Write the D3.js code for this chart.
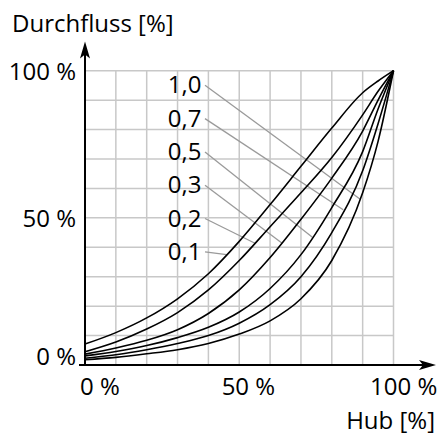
<!DOCTYPE html>
<html>
<head>
<meta charset="utf-8">
<script src="https://cdn.jsdelivr.net/npm/d3@7"></script>
<style>
  html, body { margin: 0; padding: 0; background: #fff; }
  svg { display: block; }
  text { font-family: "Open Sans", "Noto Sans", sans-serif; fill: #000; }
</style>
</head>
<body>
<svg id="chart" width="440" height="436"></svg>
<script>
// Hub positions (%) at which each characteristic is sampled
const hub = [0, 10, 20, 30, 40, 50, 60, 70, 80, 90, 95, 100];

// Flow (%) for each valve authority
const flowA01 = [7.1, 11, 16, 22.5, 31, 42, 54.5, 67.5, 80.5, 92.5, 96.5, 100];
const flowA02 = [4.5, 7.8, 12.2, 17.8, 25.5, 35.5, 47, 58.5, 70.5, 85, 93, 100];
const flowA03 = [3.7, 5.8, 8.4, 12, 17.5, 25.5, 36.5, 49.5, 63.5, 79.5, 90, 100];
const flowA05 = [3.1, 4.6, 6.6, 9.3, 12.8, 18, 26, 37.5, 53.5, 72.5, 87, 100];
const flowA07 = [2.3, 3.5, 5.2, 7.3, 10, 14.2, 20.5, 30, 45, 66, 82, 100];
const flowA10 = [1.8, 2.6, 3.8, 5.2, 7.3, 10.5, 15, 22.5, 35.5, 58.5, 76, 100];

// Authority labels, top to bottom, and where each leader meets its curve (hub %)
const authorityLabels = ["1,0", "0,7", "0,5", "0,3", "0,2", "0,1"];
const authoritySeries = [flowA10, flowA07, flowA05, flowA03, flowA02, flowA01];
const leaderHub = [89.1, 83.7, 73.7, 63.8, 55.1, 45.9];

// Axis ticks
const xTickValues = [0, 50, 100];
const xTickLabels = ["0 %", "50 %", "100 %"];
const yTickValues = [0, 50, 100];
const yTickLabels = ["0 %", "50 %", "100 %"];
const xTitle = "Hub [%]";
const yTitle = "Durchfluss [%]";

const svg = d3.select("#chart");
const x = d3.scaleLinear().domain([0, 100]).range([85, 393.5]);
const y = d3.scaleLinear().domain([0, 100]).range([365, 70.7]);

// Grid
const grid = svg.append("g").attr("stroke", "#c8c8c8").attr("stroke-width", 1.5);
grid.selectAll("line.v").data(x.ticks(10)).join("line")
  .attr("x1", d => x(d)).attr("x2", d => x(d))
  .attr("y1", y(0)).attr("y2", y(100));
grid.selectAll("line.h").data(y.ticks(10)).join("line")
  .attr("x1", x(0)).attr("x2", x(100))
  .attr("y1", d => y(d)).attr("y2", d => y(d));

// Leader lines from labels to curves
function flowAt(series, h) {
  for (let i = 1; i < hub.length; i++) {
    if (h <= hub[i]) {
      const t = (h - hub[i - 1]) / (hub[i] - hub[i - 1]);
      return series[i - 1] + t * (series[i] - series[i - 1]);
    }
  }
  return series[series.length - 1];
}
const labelBase = 93.3, labelStep = 33.3, labelRight = 201.5;
svg.append("g").attr("stroke", "#9a9a9a").attr("stroke-width", 1.3)
  .selectAll("line").data(authorityLabels).join("line")
  .attr("x1", labelRight + 3.5)
  .attr("y1", (d, i) => labelBase + labelStep * i - 8)
  .attr("x2", (d, i) => x(leaderHub[i]))
  .attr("y2", (d, i) => y(flowAt(authoritySeries[i], leaderHub[i])));

// Curves
const line = d3.line()
  .x((d, i) => x(hub[i]))
  .y(d => y(d))
  .curve(d3.curveMonotoneX);
svg.append("g").selectAll("path").data(authoritySeries).join("path")
  .attr("d", d => line(d))
  .attr("fill", "none")
  .attr("stroke", "#000")
  .attr("stroke-width", 1.6);

// Authority labels
svg.append("g").selectAll("text").data(authorityLabels).join("text")
  .attr("x", labelRight)
  .attr("y", (d, i) => labelBase + labelStep * i)
  .attr("text-anchor", "end")
  .attr("font-size", 24)
  .text(d => d);

// Axes with arrows
svg.append("line")
  .attr("x1", x(0)).attr("x2", x(0))
  .attr("y1", y(0)).attr("y2", 50)
  .attr("stroke", "#000").attr("stroke-width", 2);
svg.append("line")
  .attr("x1", x(0) - 6).attr("x2", 428)
  .attr("y1", y(0)).attr("y2", y(0))
  .attr("stroke", "#000").attr("stroke-width", 2);
const ax = x(0), tipY = 41.5;
svg.append("path")
  .attr("d", `M${ax},${tipY} L${ax - 5},${tipY + 17} L${ax},${tipY + 13} L${ax + 5},${tipY + 17} Z`)
  .attr("fill", "#000");
const tipX = 436, ay = y(0);
svg.append("path")
  .attr("d", `M${tipX},${ay} L${tipX - 17},${ay - 5} L${tipX - 13},${ay} L${tipX - 17},${ay + 5} Z`)
  .attr("fill", "#000");

// Tick labels
const xLabelShift = [-5, -17.6, -23.5];
svg.append("g").selectAll("text").data(xTickValues).join("text")
  .attr("x", (d, i) => x(d) + xLabelShift[i])
  .attr("y", 395)
  .attr("font-size", 24)
  .text((d, i) => xTickLabels[i]);
const yLabelBaseline = [y(0), y(50) + 9, y(100) + 9];
svg.append("g").selectAll("text").data(yTickValues).join("text")
  .attr("x", 76)
  .attr("y", (d, i) => yLabelBaseline[i])
  .attr("text-anchor", "end")
  .attr("font-size", 24)
  .text((d, i) => yTickLabels[i]);

// Axis titles
svg.append("text").attr("x", 12).attr("y", 32).attr("font-size", 24).text(yTitle);
svg.append("text").attr("x", 435).attr("y", 429).attr("text-anchor", "end").attr("font-size", 24).text(xTitle);
</script>
</body>
</html>
